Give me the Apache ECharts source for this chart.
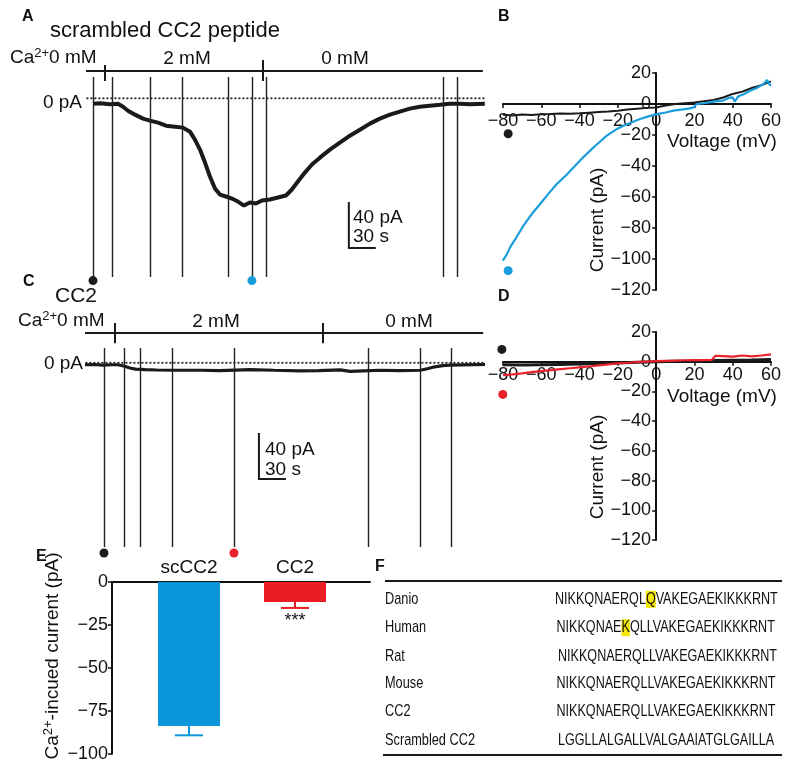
<!DOCTYPE html>
<html><head><meta charset="utf-8">
<script src="https://cdn.jsdelivr.net/npm/echarts@6/dist/echarts.min.js"></script>
<style>html,body{margin:0;padding:0;background:#fff}#c{width:800px;height:774px}</style>
</head><body><div id="c"></div>
<script>
// ---------- Panel A: scrambled CC2 peptide, whole-cell current trace ----------
const traceA_t = [7.8,15.6,26.7,35.6,41.2,46.7,54.5,63.4,71.2,80.1,89,99,107.9,115.7,121.2,126.8,132.4,137.9,143.5,149,155.7,162.4,169,175.8,182.4,189.1,195.8,204.7,213.6,222.5,229.1,235.8,243.6,251.4,260.3,271.4,282.5,293.7,304.8,315.9,327,338.2,349.3,360.4,371.5,382.6,393.8,404.9,416,427.1,443.8];
const traceA_i = [-4.7,-4.3,-5.1,-4.7,-7.3,-10.8,-14.2,-17.7,-19.4,-21.2,-23.8,-24.7,-25.5,-29,-35.9,-44.6,-55.9,-68,-78.5,-83.7,-85.4,-87.2,-89.8,-93.3,-90.6,-91.5,-88.9,-88,-86.3,-84.5,-79.3,-72.4,-64.6,-57.6,-51.6,-44.6,-38.5,-32.5,-27.3,-22,-17.7,-14.2,-11.6,-9,-7.3,-6.4,-5.6,-4.7,-4.7,-5.1,-4.7];
const rampsA = [7.8,28.9,71.2,106.8,158,184.6,200.2,397,412.7];
const dotsA_t = [7.8,184.6];
const dotsA_color = ['#1c1c1c','#1a9ddc'];
const bathA = [21.1,196.9];          // solution change times (s)
const bathA_labels = ['2 mM','0 mM'];

// ---------- Panel C: CC2 peptide trace ----------
const traceC_t = [0,10,20,30,37,44,50,56,67,80,100,128,150,184,210,239,260,284,295,310,328,350,373,382,389,398,406,420,445];
const traceC_i = [-1.7,-1.5,-2,-1.7,-1.7,-3,-4.5,-5.5,-6,-6.3,-6.5,-6.5,-6.8,-6,-6.5,-7,-6.8,-6.2,-7.5,-7,-6.5,-6.8,-6.5,-5,-3.5,-2.5,-2,-1.8,-1.5];
const rampsC = [21.1,43.4,61.2,96.8,165.7,314.8,372.6,407.1];
const dotsC_t = [21.1,165.7];
const dotsC_color = ['#1c1c1c','#e8212b'];
const bathC = [33.4,264.7];

// ---------- Panel B: I-V curves (scrambled) ----------
const ivB_black_v = [-80,-75,-70,-65,-60,-55,-50,-45,-40,-35,-30,-25,-20,-15,-10,-5,0,5,10,15,20,25,30,35,40,45,50,55,60];
const ivB_black_i = [-6.9,-7.4,-6.8,-7.1,-6.6,-6.5,-6.2,-6.3,-6,-5.6,-5.2,-4.8,-4.3,-3.6,-3,-2.5,-2.2,-1,0,0.5,1,1.8,2.6,4.2,6.5,8,10.3,12.2,14.6];
const ivB_blue_v = [-80.1,-78,-76.3,-73,-69.3,-65,-60.6,-56,-51.9,-47,-43.2,-39,-34.5,-30,-25.8,-21,-17.1,-12,-8.4,-4,0.3,5,9,14,17.7,20,21,25,30,35,38,40,41,43,46,49,52,55,57,58,59,60];
const ivB_blue_i = [-101,-97,-92.5,-86,-78.5,-71,-64.5,-57.5,-51.6,-46,-40.9,-35.5,-30.1,-25,-20.4,-16.5,-14,-11.5,-9.7,-8,-6.5,-5.5,-4.3,-3.5,-2.8,-2,0,0.5,1.5,2.2,4,4.3,1.5,5,6.5,8.6,10,12,14,15.5,13,11.8];
const dotsB_v = [-77.3,-77.3];
const dotsB_i = [-19.2,-107.5];
const dotsB_color = ['#1c1c1c','#1a9ddc'];

// ---------- Panel D: I-V curves (CC2) ----------
const ivD_black_v = [-80,-70,-60,-50,-40,-30,-20,-10,0,10,20,30,40,50,60];
const ivD_black_i = [-2,-2.2,-2,-1.8,-1.6,-1.2,-0.8,-0.3,0,0.3,0.5,0.8,1,1.2,1.5];
const ivD_red_v = [-80,-75,-70,-65,-60,-55,-50,-45,-40,-35,-30,-25,-20,-15,-10,-5,0,5,10,15,20,25,29,31,35,40,45,50,55,60];
const ivD_red_i = [-9,-8.5,-7.8,-7,-6.3,-5.7,-5,-4.4,-3.8,-3.2,-2.5,-1.8,-1.1,-0.7,-0.2,0.1,0.4,0.6,0.8,1,1.1,1.1,1.2,4,3.8,3.4,4.2,3.6,4.2,5];
const dotsD_v = [-80.6,-80.1];
const dotsD_i = [8.3,-22];
const dotsD_color = ['#1c1c1c','#e8212b'];

// ---------- Panel E: summary bars ----------
const categoriesE = ['scCC2','CC2'];
const meanE = [-83.9,-11.6];
const semE = [5.4,3.5];
const colorsE = ['#0b96d9','#ec1c24'];
const yTicksE = [0,-25,-50,-75,-100];

// ---------- Panel F: sequence alignment ----------
const species = ['Danio','Human','Rat','Mouse','CC2','Scrambled CC2'];
const sequences = ['NIKKQNAERQLQVAKEGAEKIKKKRNT','NIKKQNAEKQLLVAKEGAEKIKKKRNT','NIKKQNAERQLLVAKEGAEKIKKKRNT','NIKKQNAERQLLVAKEGAEKIKKKRNT','NIKKQNAERQLLVAKEGAEKIKKKRNT','LGGLLALGALLVALGAAIATGLGAILLA'];
const highlightIdx = [11,8,-1,-1,-1,-1];

// ================================================================
const FONT = "'Liberation Sans', Arial, Helvetica, sans-serif";
const INK = '#111';
const zip = (a,b) => a.map((v,i)=>[v,b[i]]);
const minus = v => String(v).replace('-', '\u2212');

function txt(x, y, text, o) {
  o = o || {};
  return {
    type: 'text', x: x, y: y, rotation: o.rotation || 0, scaleX: o.scaleX || 1, silent: true,
    style: {
      text: text, fill: o.fill || INK, fontFamily: FONT, fontSize: o.size || 19,
      fontWeight: o.weight || 'normal', align: o.align || 'left', verticalAlign: o.va || 'middle',
      rich: o.rich
    }
  };
}
const supRich = (size) => ({
  a: {fontSize: size, fontFamily: FONT, fill: INK, lineHeight: size + 4},
  s: {fontSize: Math.round(size*0.68), fontFamily: FONT, fill: INK, verticalAlign: 'top'}
});

// Trace panel helper
function tracePanel(ax, trace, ramps, rampTop, rampBot, dots_t, dots_color, dotY, bath, bathY, tickTops, bathEnd, tEnd, scale, lw) {
  const s = [];
  s.push({type:'line', xAxisIndex:ax, yAxisIndex:ax, data: trace, showSymbol:false, silent:true,
    lineStyle:{color:'#1a1a1a', width:lw}, z:3});
  s.push({type:'line', xAxisIndex:ax, yAxisIndex:ax, data: [[-4,0],[tEnd,0]], showSymbol:false, silent:true, clip:false,
    lineStyle:{color:'#222', width:1.8, type:[2,2]}, z:2});
  s.push({type:'lines', coordinateSystem:'cartesian2d', xAxisIndex:ax, yAxisIndex:ax, silent:true,
    data: ramps.map(t=>({coords:[[t,rampTop],[t,rampBot]]})), lineStyle:{color:'#222', width:1.4, opacity:1}, z:4});
  const bathLines = [{coords:[[0,bathY],[bathEnd,bathY]]}].concat(bath.map((t,i)=>({coords:[[t,tickTops[i]],[t,bathY-9]]})));
  s.push({type:'lines', coordinateSystem:'cartesian2d', xAxisIndex:ax, yAxisIndex:ax, silent:true,
    data: bathLines, lineStyle:{color:'#1a1a1a', width:2, opacity:1}, z:4});
  s.push({type:'scatter', xAxisIndex:ax, yAxisIndex:ax, silent:true, clip:false, symbolSize:9,
    data: dots_t.map((t,i)=>({value:[t,dotY], itemStyle:{color:dots_color[i], opacity:1}})), z:5});
  s.push({type:'lines', coordinateSystem:'cartesian2d', xAxisIndex:ax, yAxisIndex:ax, silent:true, polyline:true,
    data:[{coords:[[scale[0],scale[1]],[scale[0],scale[1]-40],[scale[0]+30,scale[1]-40]]}],
    lineStyle:{color:'#1a1a1a', width:2, opacity:1}, z:4});
  return s;
}

// I-V axes: axis lines cross at the origin (placed with offsets from the grid edges)
const ivAxisX = (gi, off, mg) => ({
  type:'value', gridIndex:gi, min:-80, max:60, interval:20, position:'bottom', offset:off,
  axisLine:{show:true, onZero:false, lineStyle:{color:INK, width:2}},
  axisTick:{show:true, length:4, lineStyle:{color:INK, width:1.5}},
  axisLabel:{color:INK, fontFamily:FONT, fontSize:18, margin:mg, formatter: minus, hideOverlap:false},
  splitLine:{show:false}
});
const ivAxisY = (gi, off) => ({
  type:'value', gridIndex:gi, min:-120, max:20, interval:20, position:'left', offset:off,
  axisLine:{show:true, onZero:false, lineStyle:{color:INK, width:2}},
  axisTick:{show:true, length:4, lineStyle:{color:INK, width:1.5}},
  axisLabel:{color:INK, fontFamily:FONT, fontSize:18, margin:5, formatter: minus},
  splitLine:{show:false}
});

const series = [];
series.push(...tracePanel(0, zip(traceA_t, traceA_i), rampsA, 18.5, -155.4, dotsA_t, dotsA_color, -158.5,
  bathA, 24, [29, 33.3], 441.6, 444, [292.5, -90.2], 4));
series.push(...tracePanel(1, zip(traceC_t, traceC_i), rampsC, 12.9, -160.4, dotsC_t, dotsC_color, -165.6,
  bathC, 26, [34.7, 34.7], 443, 445, [193.5, -61.1], 3.2));

// B
series.push({type:'line', xAxisIndex:2, yAxisIndex:2, data:zip(ivB_black_v, ivB_black_i), showSymbol:false, silent:true, lineStyle:{color:'#1a1a1a', width:2}, z:3});
series.push({type:'line', xAxisIndex:2, yAxisIndex:2, data:zip(ivB_blue_v, ivB_blue_i), showSymbol:false, silent:true, lineStyle:{color:'#1a9ddc', width:2.2}, z:4});
series.push({type:'scatter', xAxisIndex:2, yAxisIndex:2, clip:false, silent:true, symbolSize:9,
  data: dotsB_v.map((v,i)=>({value:[v,dotsB_i[i]], itemStyle:{color:dotsB_color[i], opacity:1}}))});
// D
series.push({type:'line', xAxisIndex:3, yAxisIndex:3, data:zip(ivD_black_v, ivD_black_i), showSymbol:false, silent:true, lineStyle:{color:'#1a1a1a', width:3}, z:3});
series.push({type:'line', xAxisIndex:3, yAxisIndex:3, data:zip(ivD_red_v, ivD_red_i), showSymbol:false, silent:true, lineStyle:{color:'#e8212b', width:2.2}, z:4});
series.push({type:'scatter', xAxisIndex:3, yAxisIndex:3, clip:false, silent:true, symbolSize:9,
  data: dotsD_v.map((v,i)=>({value:[v,dotsD_i[i]], itemStyle:{color:dotsD_color[i], opacity:1}}))});
// E bars
series.push({type:'bar', xAxisIndex:5, yAxisIndex:5, barWidth:62, silent:true,
  data: meanE.map((v,i)=>({value:v, itemStyle:{color:colorsE[i], opacity:1}})), z:3});
series.push({type:'custom', xAxisIndex:5, yAxisIndex:5, silent:true, z:4,
  data: meanE.map((v,i)=>[i, v, semE[i]]),
  renderItem: function(params, api){
    const i = api.value(0), m = api.value(1), e = api.value(2);
    const p1 = api.coord([i, m]), p2 = api.coord([i, m - e]);
    const st = {stroke: colorsE[i], lineWidth: 2};
    return {type:'group', children:[
      {type:'line', shape:{x1:p1[0], y1:p1[1], x2:p2[0], y2:p2[1]}, style:st},
      {type:'line', shape:{x1:p2[0]-14, y1:p2[1], x2:p2[0]+14, y2:p2[1]}, style:st}
    ]};
  }
});

// Graphic texts
const graphic = [];
[['A',22,17],['B',498,17],['C',23,282],['D',498,297],['E',36,557],['F',375,567]].forEach(l=>{
  graphic.push(txt(l[1], l[2], l[0], {size:16, weight:'bold'}));
});
// A
graphic.push(txt(50, 31, 'scrambled CC2 peptide', {size:22}));
graphic.push(txt(10, 58, '{a|Ca}{s|2+}{a|0 mM}', {rich: supRich(19)}));
graphic.push(txt(187, 59, bathA_labels[0], {align:'center'}));
graphic.push(txt(345, 59, bathA_labels[1], {align:'center'}));
graphic.push(txt(82, 103, '0 pA', {align:'right'}));
graphic.push(txt(353, 218, '40 pA'));
graphic.push(txt(353, 237, '30 s'));
// C
graphic.push(txt(55, 296, 'CC2', {size:21}));
graphic.push(txt(18, 321, '{a|Ca}{s|2+}{a|0 mM}', {rich: supRich(19)}));
graphic.push(txt(216, 322, '2 mM', {align:'center'}));
graphic.push(txt(409, 322, '0 mM', {align:'center'}));
graphic.push(txt(83, 364, '0 pA', {align:'right'}));
graphic.push(txt(265, 450, '40 pA'));
graphic.push(txt(265, 470, '30 s'));
// B / D axis names
graphic.push(txt(722, 142, 'Voltage (mV)', {align:'center'}));
graphic.push(txt(722, 397, 'Voltage (mV)', {align:'center'}));
graphic.push(txt(598, 220, 'Current (pA)', {align:'center', rotation:Math.PI/2}));
graphic.push(txt(598, 467, 'Current (pA)', {align:'center', rotation:Math.PI/2}));
// E
graphic.push(txt(53, 656, '{a|Ca}{s|2+}{a|-incued current (pA)}', {align:'center', rotation:Math.PI/2, rich: supRich(19)}));
graphic.push(txt(295, 621, '***', {align:'center', size:18}));
// F table
graphic.push({type:'line', silent:true, shape:{x1:385, y1:581, x2:782, y2:581}, style:{stroke:'#1a1a1a', lineWidth:2}});
graphic.push({type:'line', silent:true, shape:{x1:383, y1:755, x2:782, y2:755}, style:{stroke:'#1a1a1a', lineWidth:2}});
const rowY = [599.3, 627.7, 656, 683.3, 711.7, 740];
const seqX = [555, 556.5, 558, 556.5, 556.5, 558];
species.forEach((sp, r) => {
  graphic.push(txt(385, rowY[r], sp, {size:17, scaleX:0.75}));
  const seq = sequences[r], h = highlightIdx[r];
  let rt;
  if (h >= 0) rt = '{a|' + seq.slice(0,h) + '}{h|' + seq[h] + '}{a|' + seq.slice(h+1) + '}';
  else rt = '{a|' + seq + '}';
  graphic.push(txt(seqX[r], rowY[r], rt, {size:17, scaleX:0.74, rich:{
    a:{fontSize:17, fontFamily:FONT, fill:INK, lineHeight:20},
    h:{fontSize:17, fontFamily:FONT, fill:INK, lineHeight:20, backgroundColor:'#f3e600'}
  }}));
});

const option = {
  animation: false,
  backgroundColor: '#fff',
  grid: [
    {left:86, top:50, width:399, height:230, outerBoundsMode:'none'},
    {left:85, top:318, width:400, height:240, outerBoundsMode:'none'},
    {left:503, top:73, width:268, height:217, outerBoundsMode:'none'},
    {left:503, top:332, width:268, height:208, outerBoundsMode:'none'},
    {left:112, top:582, width:258, height:171.7, outerBoundsMode:'none'},
    {left:136, top:582, width:212, height:171.7, outerBoundsMode:'none'}
  ],
  xAxis: [
    {type:'value', gridIndex:0, min:0, max:444, show:false},
    {type:'value', gridIndex:1, min:0, max:445, show:false},
    ivAxisX(2, -186, 8), ivAxisX(3, -178.3, 4),
    {type:'value', gridIndex:4, min:0, max:1, position:'top', axisLine:{show:true, onZero:false, lineStyle:{color:INK, width:2}},
      axisTick:{show:false}, axisLabel:{show:false}, splitLine:{show:false}},
    {type:'category', gridIndex:5, data:categoriesE, position:'top',
      axisLine:{show:false}, axisTick:{show:false},
      axisLabel:{color:INK, fontFamily:FONT, fontSize:19, margin:5}}
  ],
  yAxis: [
    {type:'value', gridIndex:0, min:-158, max:42, show:false},
    {type:'value', gridIndex:1, min:-170, max:39, show:false},
    ivAxisY(2, -153.1), ivAxisY(3, -153.1),
    {type:'value', gridIndex:4, min:yTicksE[4], max:yTicksE[0], interval:25,
      axisLine:{show:true, lineStyle:{color:INK, width:2}},
      axisTick:{show:true, length:4, lineStyle:{color:INK, width:1.5}},
      axisLabel:{color:INK, fontFamily:FONT, fontSize:18, margin:4, formatter:minus},
      splitLine:{show:false}},
    {type:'value', gridIndex:5, min:-100, max:0, show:false}
  ],
  series: series,
  graphic: graphic
};
const chart = echarts.init(document.getElementById('c'), null, {renderer:'canvas'});
chart.setOption(option);
</script></body></html>
